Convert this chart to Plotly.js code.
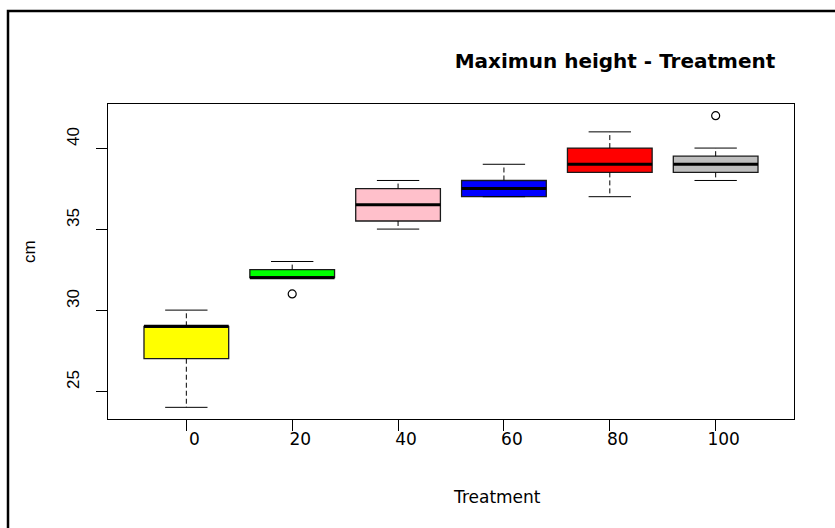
<!DOCTYPE html>
<html>
<head>
<meta charset="utf-8">
<script src="https://cdn.plot.ly/plotly-3.0.1.min.js"></script>
<style>
  html, body { margin: 0; padding: 0; background: #ffffff; }
  #chart { width: 835px; height: 528px; }
</style>
</head>
<body>
<div id="chart"></div>
<script>
// Treatment groups (x axis labels)
const treatments = ["0", "20", "40", "60", "80", "100"];

// Five-number summaries per treatment (cm)
const lowerWhisker = [24, 32, 35, 37, 37, 38];
const q1Values     = [27, 32, 35.5, 37, 38.5, 38.5];
const medianValues = [29, 32, 36.5, 37.5, 39, 39];
const q3Values     = [29, 32.5, 37.5, 38, 40, 39.5];
const upperWhisker = [30, 33, 38, 39, 41, 40];

// Outlying observations
const outlierGroup = ["20", "100"];
const outlierValue = [31, 42];

// Box fill colours
const boxColors = ["#ffff00", "#00ff00", "#ffc0cb", "#0000ff", "#ff0000", "#bebebe"];

const yTicks = [25, 30, 35, 40];

const BOX_W = 0.8;     // box width in group units
const CAP_W = 0.4;     // whisker staple width

const positions = treatments.map((_, i) => i + 1);

const traces = [];

// Boxes (filled rectangles from Q1 to Q3)
treatments.forEach((t, i) => {
  traces.push({
    type: "box",
    x: [positions[i]],
    q1: [q1Values[i]],
    median: [medianValues[i]],
    q3: [q3Values[i]],
    lowerfence: [q1Values[i]],
    upperfence: [q3Values[i]],
    width: BOX_W,
    fillcolor: boxColors[i],
    line: { color: "#1a1a1a", width: 1.3 },
    whiskerwidth: 0,
    boxpoints: false,
    hoverinfo: "skip",
    showlegend: false
  });
});

// Dashed whiskers from box edges to extremes
const wx = [], wy = [];
positions.forEach((p, i) => {
  wx.push(p, p, null, p, p, null);
  wy.push(q1Values[i], lowerWhisker[i], null, q3Values[i], upperWhisker[i], null);
});
traces.push({
  type: "scatter", mode: "lines", x: wx, y: wy,
  line: { color: "#000000", width: 1, dash: "5px,3px" },
  hoverinfo: "skip", showlegend: false
});

// Whisker staples
const cx = [], cy = [];
positions.forEach((p, i) => {
  cx.push(p - CAP_W / 2, p + CAP_W / 2, null, p - CAP_W / 2, p + CAP_W / 2, null);
  cy.push(lowerWhisker[i], lowerWhisker[i], null, upperWhisker[i], upperWhisker[i], null);
});
traces.push({
  type: "scatter", mode: "lines", x: cx, y: cy,
  line: { color: "#000000", width: 1 },
  hoverinfo: "skip", showlegend: false
});

// Heavy median bars
const mx = [], my = [];
positions.forEach((p, i) => {
  mx.push(p - BOX_W / 2, p + BOX_W / 2, null);
  my.push(medianValues[i], medianValues[i], null);
});
traces.push({
  type: "scatter", mode: "lines", x: mx, y: my,
  line: { color: "#000000", width: 3 },
  hoverinfo: "skip", showlegend: false
});

// Outlier points (open circles)
traces.push({
  type: "scatter", mode: "markers",
  x: outlierGroup.map(g => treatments.indexOf(g) + 1),
  y: outlierValue,
  marker: { symbol: "circle-open", size: 8, color: "#000000", line: { width: 1.2 } },
  hoverinfo: "skip", showlegend: false
});

const sans = "Liberation Sans, Arial, sans-serif";
const wide = "DejaVu Sans, sans-serif";

const layout = {
  width: 835,
  height: 528,
  margin: { l: 108, r: 41, t: 104, b: 109 },
  paper_bgcolor: "#ffffff",
  plot_bgcolor: "#ffffff",
  showlegend: false,
  boxmode: "overlay",
  title: {
    text: "<b>Maximun height - Treatment</b>",
    font: { family: wide, size: 20, color: "#000000" },
    x: 615 / 835, xanchor: "center",
    y: 1 - 61 / 528, yanchor: "middle"
  },
  xaxis: {
    range: [0.26, 6.74],
    tickmode: "array",
    tickvals: positions,
    ticktext: treatments,
    ticks: "outside", ticklen: 11, tickwidth: 1, tickcolor: "#000000",
    ticklabelshift: 8,
    ticklabelstandoff: -6,
    showline: true, mirror: true, linecolor: "#000000", linewidth: 1,
    showgrid: false, zeroline: false,
    tickfont: { family: wide, size: 17, color: "#000000" }
  },
  yaxis: {
    range: [23.28, 42.72],
    tickmode: "array",
    tickvals: yTicks,
    ticktext: yTicks.map(String),
    tickangle: -90,
    ticks: "outside", ticklen: 11, tickwidth: 1, tickcolor: "#000000",
    ticklabelshift: -9,
    ticklabelstandoff: 10,
    showline: true, mirror: true, linecolor: "#000000", linewidth: 1,
    showgrid: false, zeroline: false,
    tickfont: { family: sans, size: 17, color: "#000000" }
  },
  annotations: [
    {
      text: "Treatment", xref: "paper", yref: "paper",
      x: (497 - 108) / 686, y: (419 - 497) / 315,
      xanchor: "center", yanchor: "middle", showarrow: false,
      font: { family: wide, size: 17, color: "#000000" }
    },
    {
      text: "cm", xref: "paper", yref: "paper", textangle: -90,
      x: (29 - 108) / 686, y: (419 - 252) / 315,
      xanchor: "center", yanchor: "middle", showarrow: false,
      font: { family: sans, size: 17, color: "#000000" }
    }
  ],
  shapes: [
    // outer device frame
    {
      type: "rect", xref: "paper", yref: "paper",
      x0: (8 - 108) / 686, x1: (845 - 108) / 686,
      y0: (419 - 540) / 315, y1: (419 - 11) / 315,
      line: { color: "#000000", width: 2.5 }, fillcolor: "rgba(0,0,0,0)",
      layer: "above"
    }
  ]
};

Plotly.newPlot("chart", traces, layout, { displayModeBar: false, staticPlot: true });
</script>
</body>
</html>
